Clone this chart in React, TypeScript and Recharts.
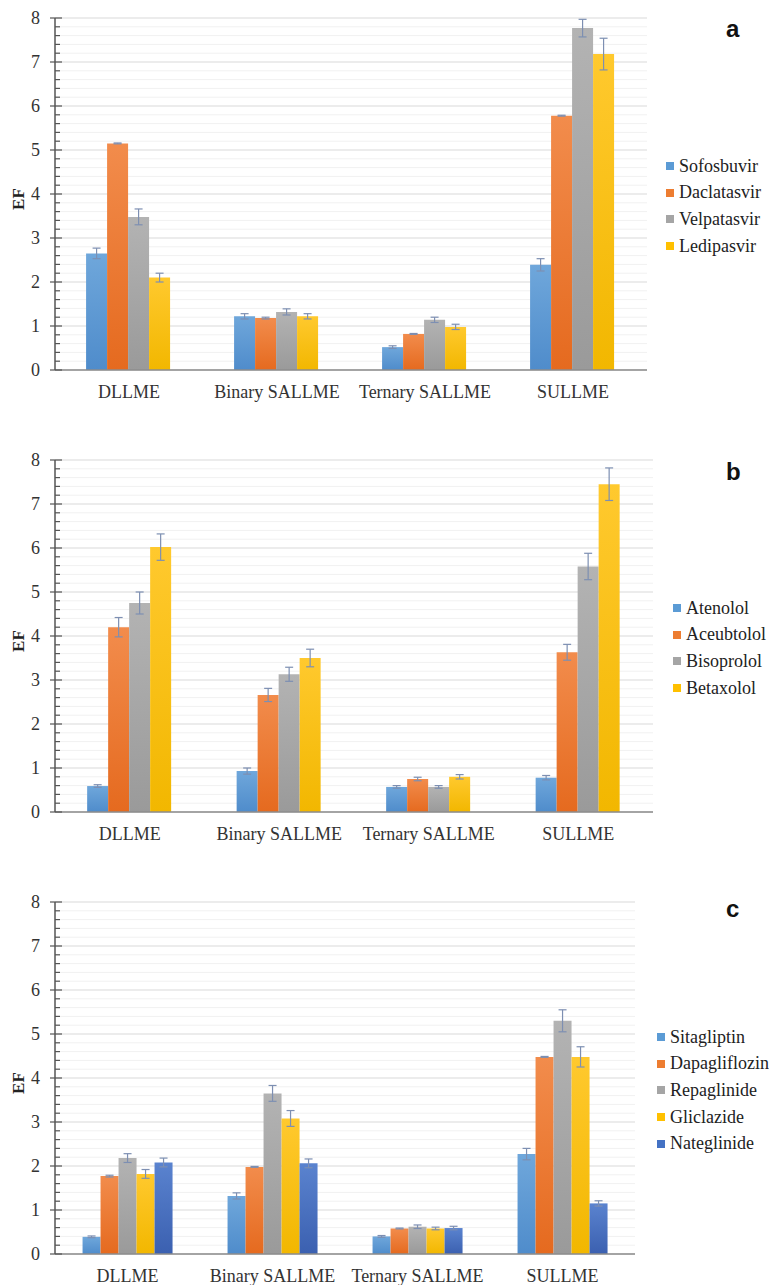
import { BarChart, Bar, XAxis, YAxis, CartesianGrid, ErrorBar, Legend } from 'recharts'

// extraction methods on the x axis (same for all three panels)
const methods = ['DLLME', 'Binary SALLME', 'Ternary SALLME', 'SULLME']

// y axis
const majorTicks = [0, 1, 2, 3, 4, 5, 6, 7, 8]

// panel a - antivirals
const antiviralNames = ['Sofosbuvir', 'Daclatasvir', 'Velpatasvir', 'Ledipasvir']
const antiviralEF = [
  [2.65, 1.22, 0.52, 2.39],
  [5.15, 1.18, 0.82, 5.78],
  [3.48, 1.32, 1.14, 7.77],
  [2.1, 1.22, 0.98, 7.18],
]
const antiviralSD = [
  [0.12, 0.06, 0.03, 0.14],
  [0.01, 0.02, 0.01, 0.01],
  [0.18, 0.07, 0.06, 0.2],
  [0.1, 0.06, 0.06, 0.36],
]

// panel b - beta blockers
const betaBlockerNames = ['Atenolol', 'Aceubtolol', 'Bisoprolol', 'Betaxolol']
const betaBlockerEF = [
  [0.59, 0.93, 0.57, 0.78],
  [4.2, 2.66, 0.75, 3.63],
  [4.75, 3.13, 0.57, 5.58],
  [6.02, 3.5, 0.8, 7.45],
]
const betaBlockerSD = [
  [0.03, 0.07, 0.03, 0.05],
  [0.22, 0.15, 0.04, 0.18],
  [0.25, 0.16, 0.03, 0.3],
  [0.3, 0.2, 0.05, 0.37],
]

// panel c - antidiabetics
const antidiabeticNames = ['Sitagliptin', 'Dapagliflozin', 'Repaglinide', 'Gliclazide', 'Nateglinide']
const antidiabeticEF = [
  [0.39, 1.32, 0.4, 2.27],
  [1.77, 1.98, 0.58, 4.48],
  [2.18, 3.65, 0.62, 5.3],
  [1.82, 3.08, 0.58, 4.48],
  [2.08, 2.06, 0.59, 1.15],
]
const antidiabeticSD = [
  [0.02, 0.07, 0.02, 0.13],
  [0.02, 0.01, 0.01, 0.01],
  [0.1, 0.18, 0.04, 0.25],
  [0.1, 0.18, 0.03, 0.23],
  [0.1, 0.1, 0.04, 0.06],
]

// office-like palette, top -> bottom shade
const barColors = [
  ['#6fa7db', '#4f8ccb'],
  ['#f28c4c', '#e56a1f'],
  ['#b3b3b3', '#9a9a9a'],
  ['#ffc92e', '#f2b700'],
  ['#5a83cf', '#3b60b0'],
]
const legendColors = ['#5b9bd5', '#ed7d31', '#a5a5a5', '#ffc000', '#4472c4']

const serif = '"Liberation Serif", "Times New Roman", serif'

const minorTicks: number[] = []
for (let i = 0; i <= 40; i++) minorTicks.push(Math.round(i * 2) / 10)

const buildRows = (values: number[][], errors: number[][]) =>
  methods.map((m, ci) => {
    const row: Record<string, string | number> = { name: m }
    values.forEach((s, si) => {
      row[`v${si}`] = s[ci]
      row[`e${si}`] = errors[si][ci]
    })
    return row
  })

const YTick = (props: any) => {
  const { x, y, payload } = props
  const v = payload.value
  const major = Math.abs(v - Math.round(v)) < 0.01
  if (!major) {
    return <line x1={x} x2={x + 5} y1={y} y2={y} stroke="#555" strokeWidth={1.2} />
  }
  return (
    <g>
      <line x1={x - 5} x2={x + 7} y1={y} y2={y} stroke="#555" strokeWidth={1.2} />
      <text x={x - 15} y={y} dy="0.35em" textAnchor="end" fontSize={18} fontFamily={serif} fill="#333">
        {Math.round(v)}
      </text>
    </g>
  )
}

interface PanelProps {
  letter: string
  names: string[]
  values: number[][]
  errors: number[][]
  top: number
  height: number
  marginTop: number
  marginBottom: number
  marginRight: number
  gap: string
  legendLeft: number
  legendTop: number
  letterTop: number
}

const Panel = (p: PanelProps) => {
  const rows = buildRows(p.values, p.errors)
  return (
    <div style={{ position: 'absolute', left: 0, top: p.top, width: 769, height: p.height }}>
      <BarChart
        width={769}
        height={p.height}
        data={rows}
        margin={{ top: p.marginTop, right: p.marginRight, bottom: p.marginBottom, left: 0 }}
        barGap={0}
        barCategoryGap={p.gap}
      >
        <defs>
          {barColors.map((c, i) => (
            <linearGradient key={i} id={`grad-${p.letter}-${i}`} x1="0" y1="0" x2="0" y2="1">
              <stop offset="0%" stopColor={c[0]} />
              <stop offset="100%" stopColor={c[1]} />
            </linearGradient>
          ))}
        </defs>
        <CartesianGrid vertical={false} horizontalValues={minorTicks} stroke="#f1f1f1" />
        <CartesianGrid vertical={false} horizontalValues={majorTicks} stroke="#e0e0e0" />
        <XAxis
          dataKey="name"
          height={30}
          tickLine={false}
          tickSize={0}
          tickMargin={15}
          axisLine={{ stroke: '#8c8c8c', strokeWidth: 1.5 }}
          tick={{ fontSize: 18, fontFamily: serif, fill: '#333' }}
        />
        <YAxis
          width={55}
          domain={[0, 8]}
          ticks={minorTicks}
          interval={0}
          tickSize={0}
          tickMargin={0}
          tickLine={false}
          axisLine={{ stroke: '#555', strokeWidth: 1.5 }}
          tick={<YTick />}
          label={{
            content: ({ viewBox }: any) => {
              const cy = viewBox.y + viewBox.height / 2 + 5
              return (
                <text
                  x={18}
                  y={cy}
                  transform={`rotate(-90 18 ${cy})`}
                  textAnchor="middle"
                  dominantBaseline="central"
                  fontSize={17}
                  fontWeight="bold"
                  fontFamily={serif}
                  fill="#222"
                >
                  EF
                </text>
              )
            },
          }}
        />
        <Legend
          layout="horizontal"
          verticalAlign="middle"
          align="center"
          wrapperStyle={{ left: p.legendLeft, top: p.legendTop, width: 130 }}
          content={() => (
            <div style={{ fontFamily: serif, fontSize: 18, color: '#222' }}>
              {p.names.map((n, i) => (
                <div key={n} style={{ height: 26.6, display: 'flex', alignItems: 'center' }}>
                  <span style={{ width: 8, height: 8, background: legendColors[i], marginRight: 5, display: 'inline-block' }} />
                  <span>{n}</span>
                </div>
              ))}
            </div>
          )}
        />
        {p.names.map((n, i) => (
          <Bar key={n} dataKey={`v${i}`} name={n} fill={`url(#grad-${p.letter}-${i})`} isAnimationActive={false}>
            <ErrorBar dataKey={`e${i}`} direction="y" width={4} stroke="#7d8fb2" strokeWidth={1.2} />
          </Bar>
        ))}
      </BarChart>
      <div
        style={{
          position: 'absolute',
          left: 726,
          top: p.letterTop,
          fontFamily: '"Liberation Sans", Arial, sans-serif',
          fontWeight: 'bold',
          fontSize: 24,
          lineHeight: '24px',
          color: '#111',
        }}
      >
        {p.letter}
      </div>
    </div>
  )
}

export default function App() {
  return (
    <div style={{ position: 'absolute', left: 0, top: 0, width: 769, height: 1285, background: '#fff' }}>
      <Panel
        letter="a"
        names={antiviralNames}
        values={antiviralEF}
        errors={antiviralSD}
        top={0}
        height={410}
        marginTop={18}
        marginBottom={10}
        marginRight={122}
        gap="21%"
        legendLeft={666}
        legendTop={153}
        letterTop={17}
      />
      <Panel
        letter="b"
        names={betaBlockerNames}
        values={betaBlockerEF}
        errors={betaBlockerSD}
        top={420}
        height={425}
        marginTop={40}
        marginBottom={3}
        marginRight={116}
        gap="21.5%"
        legendLeft={673}
        legendTop={175}
        letterTop={40}
      />
      <Panel
        letter="c"
        names={antidiabeticNames}
        values={antidiabeticEF}
        errors={antidiabeticSD}
        top={850}
        height={435}
        marginTop={52}
        marginBottom={1}
        marginRight={134}
        gap="19%"
        legendLeft={657}
        legendTop={174}
        letterTop={47}
      />
    </div>
  )
}
